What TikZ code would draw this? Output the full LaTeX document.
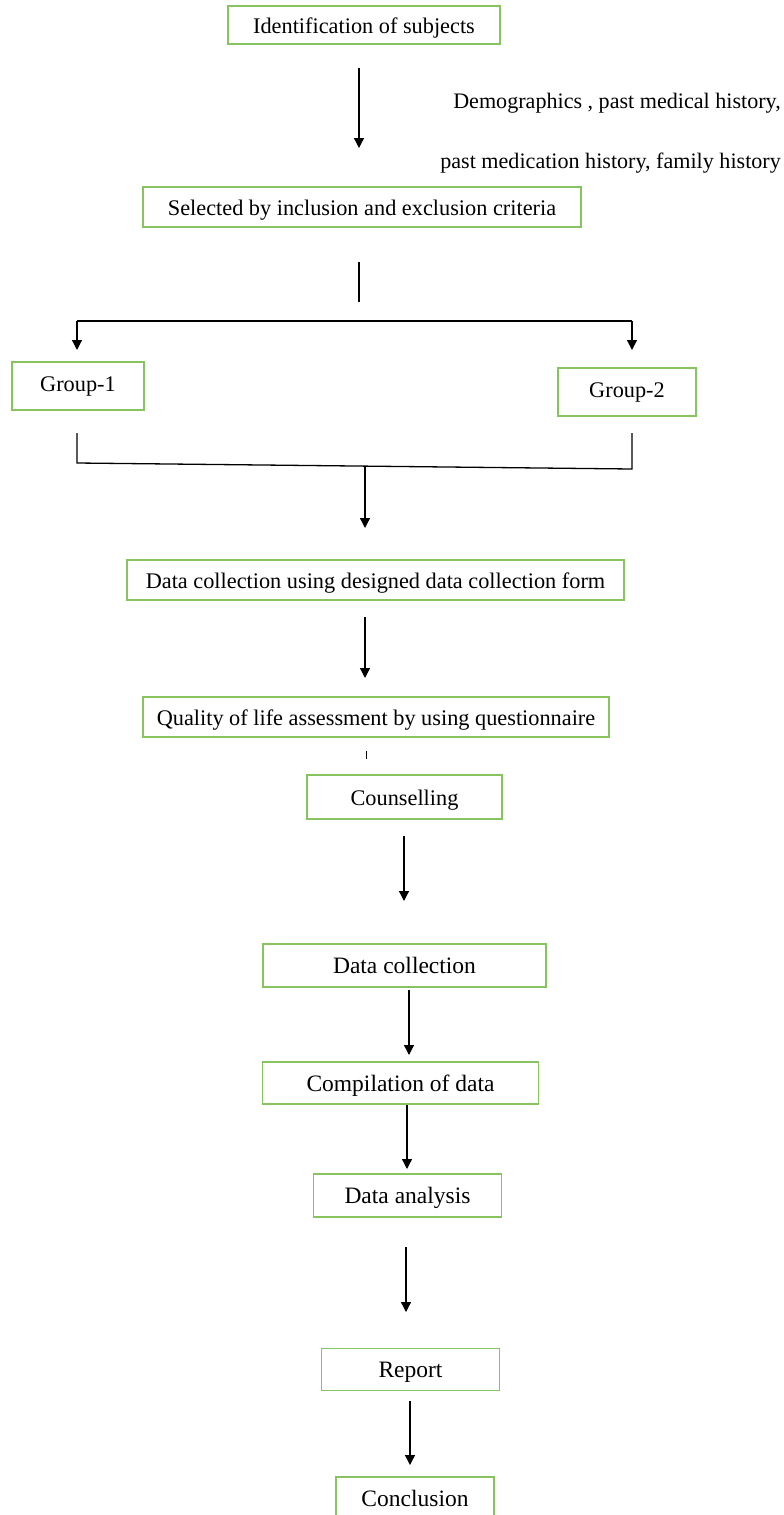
\documentclass[tikz,border=0pt]{standalone}
\usepackage{fontspec}
\setmainfont{Liberation Serif}
\usetikzlibrary{arrows.meta}
\definecolor{boxgreen}{RGB}{135,195,95}
\tikzset{
  box/.style={draw=boxgreen, line width=1.5pt, fill=white, inner sep=0pt, anchor=center, text height=16pt, text depth=0pt},
  grp/.style={text height=10pt, text depth=0pt},
  upper/.style={font=\fontsize{22.3}{26}\selectfont},
  lower/.style={font=\fontsize{23.5}{27}\selectfont},
  conn/.style={line width=1.3pt, black},
  arr/.style={conn, -{Triangle[width=10pt,length=10pt]}},
  side/.style={font=\fontsize{22.1}{26}\selectfont, anchor=base east, inner sep=0pt}
}
\begin{document}
\begin{tikzpicture}[x=1pt,y=-1pt]
\useasboundingbox (0,0) rectangle (784,1515);
\fill[white] (0,0) rectangle (784,1515);

% boxes
\node[box,upper,minimum width=272pt,minimum height=38pt] (ident) at (364,25) {Identification of subjects};
\node[box,upper,minimum width=438pt,minimum height=40pt] (sel) at (362,207) {Selected by inclusion and exclusion criteria};
\node[box,upper,grp,minimum width=132pt,minimum height=48pt] (g1) at (78,386) {Group-1};
\node[box,upper,grp,minimum width=138pt,minimum height=48pt] (g2) at (627,392) {Group-2};
\node[box,upper,minimum width=497pt,minimum height=40pt] (dc1) at (375.5,580) {Data collection using designed data collection form};
\node[box,upper,minimum width=466pt,minimum height=40pt] (qol) at (376,717) {Quality of life assessment by using questionnaire};
\node[box,upper,minimum width=195pt,minimum height=44pt] (couns) at (404.5,797) {Counselling};
\node[box,lower,minimum width=283pt,minimum height=43pt] (dc2) at (404.5,965.5) {Data collection};
\node[box,lower,minimum width=276pt,minimum height=42pt] (comp) at (400.5,1083) {Compilation of data};
\node[box,lower,minimum width=188pt,minimum height=43pt] (anal) at (407.5,1195.5) {Data analysis};
\node[box,lower,minimum width=178pt,minimum height=42pt] (rep) at (410.5,1369.5) {Report};
\node[box,lower,minimum width=158pt,minimum height=42pt] (concl) at (415,1498) {Conclusion};

% side text
\node[side] (t1) at (781,108) {Demographics , past medical history,};
\node[side] (t2) at (781,168) {past medication history, family history};

% connector coordinates
\coordinate (a1s) at (359,68);  \coordinate (a1e) at (359,148);
\coordinate (l2s) at (359,262); \coordinate (l2e) at (359,302);
\coordinate (hl) at (77,321);   \coordinate (hr) at (632,321);
\coordinate (g1a) at (77,350);  \coordinate (g2a) at (632,350);
\coordinate (g1t) at (77,433);  \coordinate (g1b) at (77,463);
\coordinate (g2t) at (632,433); \coordinate (g2b) at (632,469);
\coordinate (m1s) at (365,467); \coordinate (m1e) at (365,528);
\coordinate (a3s) at (365,617); \coordinate (a3e) at (365,678);
\coordinate (tk1) at (366,751); \coordinate (tk2) at (366,759);
\coordinate (a4s) at (404,836); \coordinate (a4e) at (404,901);
\coordinate (a5s) at (409,990); \coordinate (a5e) at (409,1055);
\coordinate (a6s) at (407,1105);\coordinate (a6e) at (407,1169);
\coordinate (a7s) at (406,1247);\coordinate (a7e) at (406,1312);
\coordinate (a8s) at (410,1401);\coordinate (a8e) at (410,1465);

% connectors
\draw[arr] (a1s) -- (a1e);
\draw[conn] (l2s) -- (l2e);
\draw[conn] (hl) -- (hr);
\draw[arr] (hl) -- (g1a);
\draw[arr] (hr) -- (g2a);
\draw[conn] (g1t) -- (g1b) -- (g2b) -- (g2t);
\draw[arr] (m1s) -- (m1e);
\draw[arr] (a3s) -- (a3e);
\draw[line width=1pt] (tk1) -- (tk2);
\draw[arr] (a4s) -- (a4e);
\draw[arr] (a5s) -- (a5e);
\draw[arr] (a6s) -- (a6e);
\draw[arr] (a7s) -- (a7e);
\draw[arr] (a8s) -- (a8e);
\end{tikzpicture}
\end{document}
